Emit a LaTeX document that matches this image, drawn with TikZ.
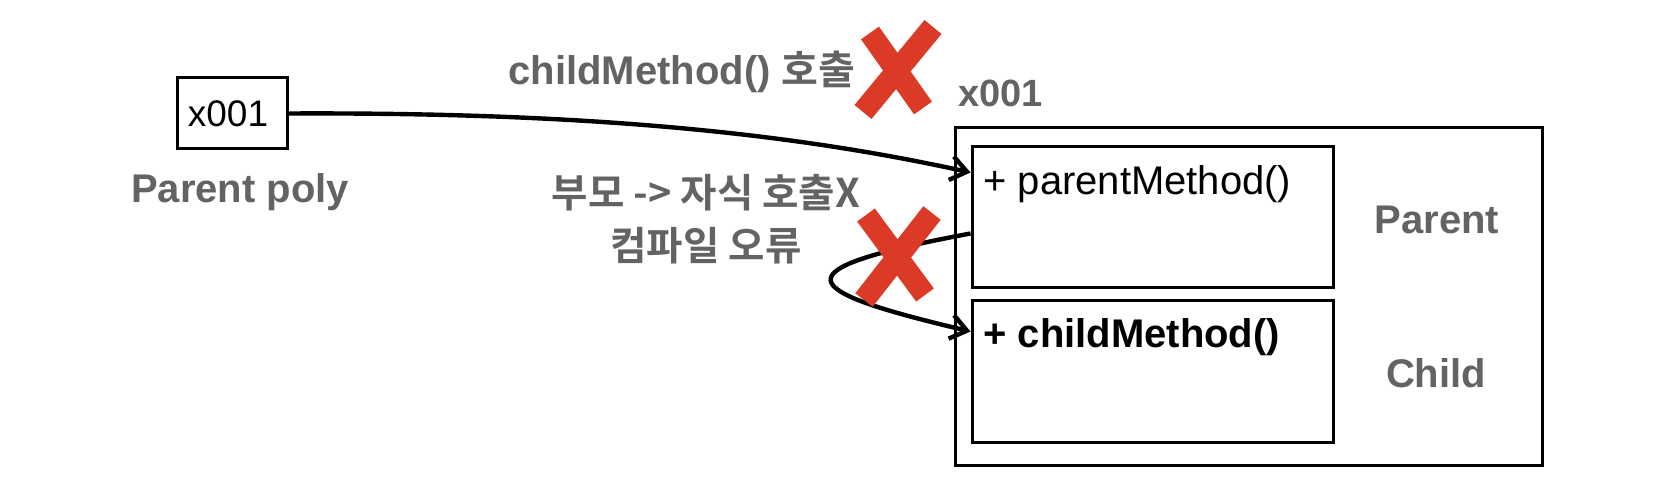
\documentclass[tikz,border=0pt]{standalone}
\usepackage{fontspec}
\setmainfont{Liberation Sans}
\newfontfamily\krfont{Noto Sans CJK KR}[BoldFont={Noto Sans CJK KR Bold}]
\usetikzlibrary{arrows.meta}
\definecolor{labelgray}{RGB}{99,99,99}
\definecolor{crossred}{RGB}{219,59,38}
\begin{document}
\begin{tikzpicture}[x=0.5pt,y=-0.5pt,
  box/.style={draw, line width=1.5pt, inner sep=0pt},
  lbl/.style={text=labelgray, font=\fontsize{20}{24}\selectfont\bfseries, inner sep=0pt},
  krlbl/.style={text=labelgray, font=\fontsize{19.8}{26.5}\selectfont\krfont\bfseries, inner sep=0pt},
  method/.style={font=\fontsize{20}{24}\selectfont, inner sep=0pt, anchor=base west},
  call/.style={line width=2.2pt, -{Straight Barb[length=8pt,width=12pt]}},
  cross/.style={draw=crossred, line width=11pt}]
\useasboundingbox (0,0) rectangle (1658,480);
% reference variable
\node[box, minimum width=55pt, minimum height=35.5pt] (ref) at (232,113.5) {};
\node[font=\fontsize{18.5}{22}\selectfont, inner sep=0pt, anchor=base] (refval) at (228,127) {x001};
\node[lbl, anchor=base] (poly) at (240,203) {Parent poly};
% instance
\node[box, minimum width=293.5pt, minimum height=168.5pt] (heap) at (1248.5,296.5) {};
\node[lbl, font=\fontsize{19}{24}\selectfont\bfseries, anchor=base west] (addr) at (958,107) {x001};
\node[box, minimum width=180.5pt, minimum height=70.5pt] (parentbox) at (1152.5,217.5) {};
\node[box, minimum width=180.5pt, minimum height=70.5pt] (childbox) at (1152.5,371.5) {};
\node[method] (pm) at (983,195) {+ parentMethod()};
\node[method, font=\fontsize{20}{24}\selectfont\bfseries] (cm) at (983,348) {+ childMethod()};
\node[lbl, anchor=base] (ptype) at (1437,234) {Parent};
\node[lbl, anchor=base] (ctype) at (1436,387) {Child};
% calls
\node[lbl, anchor=base] (callmsg) at (682,85) {childMethod() {\krfont 호출}};
\node[krlbl, align=center] (errmsg) at (706,219) {부모 -> 자식 호출X\\컴파일 오류};
\coordinate (callin) at ([yshift=-13.5pt]parentbox.north west);
\coordinate (selfout) at ([yshift=-44pt]parentbox.north west);
\coordinate (selfin) at ([yshift=-16pt]childbox.north west);
\draw[call] (ref.east) .. controls (600,112) and (800,135) .. (callin);
\draw[call] (selfout) .. controls (775,270) and (795,290) .. (selfin);
% crosses
\draw[cross] (933,27) -- (863,112);
\draw[cross] (870,33) -- (923,108);
\draw[cross] (932,213) -- (864,300);
\draw[cross] (866,215) -- (925,295);
\end{tikzpicture}
\end{document}
